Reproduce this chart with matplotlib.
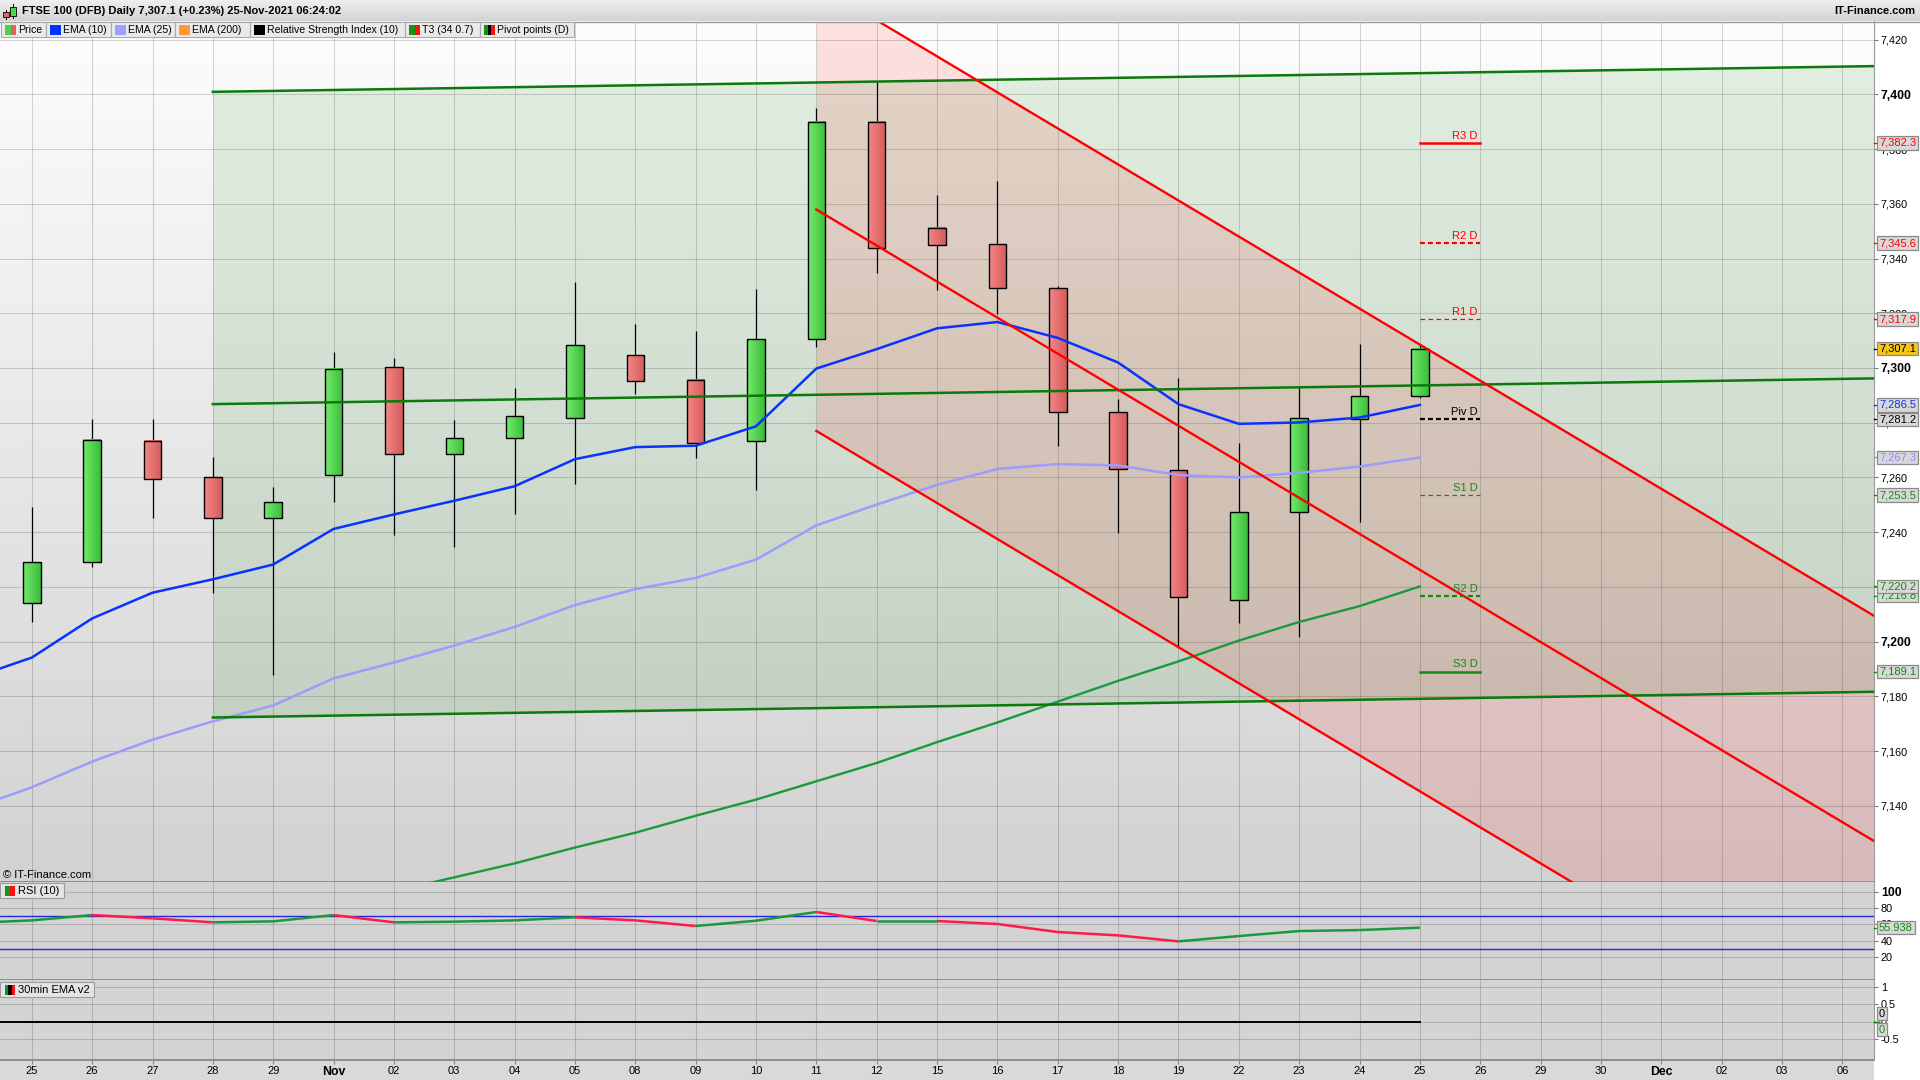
import numpy as np
import matplotlib
matplotlib.use("Agg")
import matplotlib.pyplot as plt
from matplotlib.colors import LinearSegmentedColormap
from matplotlib.patches import Rectangle

plt.rcParams['font.family'] = ['Liberation Sans', 'DejaVu Sans']

W, H = 1920, 1080

# ---- data --------------------------------------------------------------
day_labels = ["25", "26", "27", "28", "29", "Nov", "02", "03", "04", "05",
              "08", "09", "10", "11", "12", "15", "16", "17", "18", "19",
              "22", "23", "24", "25", "26", "29", "30", "Dec", "02", "03", "06"]

opens = [7214.3, 7229.1, 7273.4, 7260.0, 7245.2, 7260.9, 7300.2, 7268.5,
         7274.3, 7281.9, 7304.7, 7295.7, 7273.4, 7310.5, 7390.0, 7351.1,
         7345.3, 7329.3, 7283.8, 7262.6, 7215.2, 7247.3, 7281.5, 7289.6]
highs = [7249.2, 7281.4, 7281.4, 7267.6, 7256.4, 7306.0, 7303.8, 7281.0,
         7292.6, 7331.5, 7315.9, 7313.6, 7328.9, 7395.1, 7404.4, 7363.2,
         7368.3, 7330.0, 7288.6, 7296.2, 7272.5, 7293.1, 7308.7, 7308.8]
lows = [7207.2, 7227.3, 7245.2, 7217.9, 7187.9, 7251.0, 7238.9, 7234.5,
        7246.5, 7257.7, 7290.4, 7267.1, 7255.5, 7307.8, 7334.8, 7328.4,
        7319.9, 7271.6, 7239.8, 7197.8, 7207.0, 7201.6, 7243.8, 7288.9]
closes = [7229.1, 7273.8, 7259.5, 7245.2, 7251.0, 7299.8, 7268.5, 7274.3,
          7282.3, 7308.3, 7295.3, 7272.5, 7310.5, 7389.8, 7343.7, 7344.8,
          7329.3, 7284.1, 7263.0, 7216.2, 7247.3, 7281.6, 7289.9, 7307.1]

# indicator series start one session before the first visible candle
ema10 = [7186.6, 7194.2, 7208.5, 7217.9, 7222.8, 7228.2, 7241.2, 7246.5,
         7251.5, 7256.8, 7266.7, 7271.1, 7271.6, 7278.7, 7299.8, 7306.9,
         7314.5, 7316.8, 7311.0, 7302.0, 7286.8, 7279.6, 7280.1, 7281.9, 7286.5]
ema25 = [7139.0, 7146.8, 7156.2, 7164.2, 7170.9, 7176.7, 7186.6, 7192.4,
         7198.6, 7205.4, 7213.4, 7219.2, 7223.3, 7230.0, 7242.5, 7250.1,
         7257.3, 7263.1, 7264.9, 7264.4, 7260.9, 7260.0, 7261.7, 7264.0, 7267.3]
# T3 starts at session 6 (earlier values are below the visible range)
t3 = [7108.8, 7113.9, 7119.0, 7124.8, 7130.2, 7136.4, 7142.3, 7149.0, 7155.7,
      7163.3, 7170.5, 7178.1, 7185.7, 7192.8, 7200.4, 7207.2, 7213.0, 7220.2]
rsi = [61.6, 64.8, 71.3, 67.3, 62.4, 63.6, 71.3, 62.4, 63.2, 64.8, 68.5,
       64.8, 57.9, 64.4, 75.0, 64.0, 64.0, 60.4, 50.6, 46.5, 39.2, 45.7,
       51.8, 53.0, 55.938]
ema30min = [0, 0, 0, 0, 0, 0, 0, 0, 0, 0, 0, 0, 0, 0, 0, 0, 0, 0, 0, 0,
            0, 0, 0, 0, 0]

pivot_names = ["R3 D", "R2 D", "R1 D", "Piv D", "S1 D", "S2 D", "S3 D"]
pivot_values = [7382.3, 7345.6, 7317.9, 7281.2, 7253.5, 7216.8, 7189.1]

# trend channels: anchor sessions and prices
green_x = [3, 30.53]
green_top = [7400.9, 7410.3]
green_mid = [7286.8, 7296.2]
green_bot = [7172.3, 7181.7]
red_x = [13, 30.53]
red_top = [7440.2, 7209.4]
red_mid = [7357.9, 7127.1]
red_bot = [7277.0, 7046.2]

legend_names = ["Price", "EMA (10)", "EMA (25)", "EMA (200)",
                "Relative Strength Index (10)", "T3 (34 0.7)", "Pivot points (D)"]

# ---- styles -------------------------------------------------------------
C_GREEN_LINE = "#0b7a0b"
C_PIV_GREEN = "#118a11"
C_RED = "#ff0000"
C_EMA10 = "#0a32ff"
C_EMA25 = "#9c9cff"
C_T3 = "#1a9a3c"
C_RSI_UP = "#19993b"
C_RSI_DN = "#ff1a4a"
FS = 8.0

pivot_style = {
    "R3 D": dict(color=C_RED, lw=1.8, ls="-"),
    "R2 D": dict(color=C_RED, lw=1.6, ls=(0, (2.2, 1.4))),
    "R1 D": dict(color=C_RED, lw=0.9, ls=(0, (3.6, 2.8))),
    "Piv D": dict(color="black", lw=1.6, ls=(0, (2.2, 1.4))),
    "S1 D": dict(color=C_PIV_GREEN, lw=0.9, ls=(0, (3.6, 2.8))),
    "S2 D": dict(color=C_PIV_GREEN, lw=1.6, ls=(0, (2.2, 1.4))),
    "S3 D": dict(color=C_PIV_GREEN, lw=1.8, ls="-"),
}


def px_rect(x0, y0, x1, y1):
    return [x0 / W, 1 - y1 / H, (x1 - x0) / W, (y1 - y0) / H]


fig = plt.figure(figsize=(W / 100, H / 100), dpi=100, facecolor="white")
ax_p = fig.add_axes(px_rect(0, 21.5, 1874, 882))
ax_r = fig.add_axes(px_rect(0, 882, 1874, 980), sharex=ax_p)
ax_e = fig.add_axes(px_rect(0, 980, 1874, 1060), sharex=ax_p)

# bottom date strip
fig.add_artist(Rectangle((0, 0), 1874 / W, 20 / H, transform=fig.transFigure,
                         fc="#d9d9d9", ec="none", zorder=-1))

XMIN, XMAX = -0.527, 30.525
vgrad = np.linspace(0, 1, 256).reshape(-1, 1)
hgrad = np.linspace(0, 1, 32).reshape(1, -1)
bg_cmap = LinearSegmentedColormap.from_list("bg", ["#fdfdfd", "#d2d2d2"])
up_cmap = LinearSegmentedColormap.from_list("up", ["#74ea6a", "#3bbd3b"])
dn_cmap = LinearSegmentedColormap.from_list("dn", ["#f68686", "#d45c5c"])

for ax in (ax_p, ax_r, ax_e):
    ax.set_axisbelow(True)
    ax.grid(True, color="black", alpha=0.16, lw=0.75)
    for s in ("left", "top"):
        ax.spines[s].set_visible(False)
    ax.spines["right"].set_color("#9a9a9a")
    ax.spines["bottom"].set_color("#8e8e8e")
    ax.spines["bottom"].set_linewidth(1.4)
    ax.yaxis.tick_right()
    ax.tick_params(axis="y", length=3, color="#777777", labelsize=7.8, pad=2)
    ax.tick_params(axis="x", length=0)

# ---- price panel --------------------------------------------------------
ax_p.imshow(vgrad, cmap=bg_cmap, extent=[0, 1, 0, 1], transform=ax_p.transAxes,
            aspect="auto", zorder=0, interpolation="bilinear")

ax_p.fill_between(green_x, green_bot, green_top, color="#008000", alpha=0.10,
                  lw=0, zorder=1)
ax_p.fill_between(red_x, red_bot, red_top, color="#ff0000", alpha=0.11,
                  lw=0, zorder=1)

bw = 0.29
for i, (o, h, l, c) in enumerate(zip(opens, highs, lows, closes)):
    lo, hi = min(o, c), max(o, c)
    ax_p.vlines(i, l, h, color="black", lw=0.9, zorder=3)
    ax_p.imshow(hgrad, cmap=up_cmap if c >= o else dn_cmap,
                extent=(i - bw / 2, i + bw / 2, lo, hi), aspect="auto",
                interpolation="bilinear", zorder=4)
    ax_p.add_patch(Rectangle((i - bw / 2, lo), bw, hi - lo, fill=False,
                             ec="black", lw=1.0, zorder=4.1))

ind_x = np.arange(-1, 24)
ax_p.plot(ind_x, ema25, color=C_EMA25, lw=1.8, zorder=5)
ax_p.plot(ind_x, ema10, color=C_EMA10, lw=1.8, zorder=5)
ax_p.plot(np.arange(6, 24), t3, color=C_T3, lw=1.7, zorder=5)

for ys in (green_top, green_mid, green_bot):
    ax_p.plot(green_x, ys, color=C_GREEN_LINE, lw=1.8, zorder=6)
for ys in (red_top, red_mid, red_bot):
    ax_p.plot(red_x, ys, color=C_RED, lw=1.7, zorder=6)

last = len(closes) - 1
for name, val in zip(pivot_names, pivot_values):
    st = pivot_style[name]
    ax_p.plot([last, last + 1], [val, val], color=st["color"], lw=st["lw"],
              ls=st["ls"], zorder=6)
    ax_p.annotate(name, xy=(last + 0.96, val), xytext=(0, 1.5),
                  textcoords="offset points", ha="right", va="bottom",
                  fontsize=FS, color=st["color"], zorder=7)

ax_p.set_xlim(XMIN, XMAX)
ax_p.set_ylim(7112.2, 7426.6)
pt = list(range(7140, 7421, 20))
ax_p.set_yticks(pt)
ax_p.set_yticklabels([f"{v:,}" for v in pt])
for lab, v in zip(ax_p.get_yticklabels(), pt):
    if v % 100 == 0:
        lab.set_fontweight("bold")
        lab.set_fontsize(8.8)
ax_p.set_xticks(range(len(day_labels)))
ax_p.tick_params(axis="x", labelbottom=False)


def tag(ax, val, text, color, face="#d8d8d8", dy=0):
    tr = ax.get_yaxis_transform()
    ax.plot([1.0, 1.0028], [val, val], transform=tr, color=color, lw=1.0,
            clip_on=False, zorder=19)
    ax.annotate(text, xy=(1.0, val), xycoords=tr, xytext=(5, dy),
                textcoords="offset pixels", ha="left", va="center",
                fontsize=FS, color=color, annotation_clip=False, zorder=20,
                bbox=dict(boxstyle="square,pad=0.16", fc=face, ec="#8a8a8a",
                          lw=0.9))


tag_colors = {"R3 D": C_RED, "R2 D": C_RED, "R1 D": C_RED, "Piv D": "black",
              "S1 D": C_PIV_GREEN, "S2 D": C_PIV_GREEN, "S3 D": C_PIV_GREEN}
for name, val in zip(pivot_names, pivot_values):
    tag(ax_p, val, f"{val:,.1f}", tag_colors[name])
tag(ax_p, closes[-1], f"{closes[-1]:,.1f}", "black", face="#f5c518")
tag(ax_p, ema10[-1], f"{ema10[-1]:,.1f}", C_EMA10)
tag(ax_p, ema25[-1], f"{ema25[-1]:,.1f}", "#8c8cff")
tag(ax_p, t3[-1], f"{t3[-1]:,.1f}", C_PIV_GREEN)

# ---- RSI panel ----------------------------------------------------------
ax_r.set_facecolor("#d3d3d3")
ax_r.axhline(70, color="#2525e0", lw=1.0, zorder=2)
ax_r.axhline(30, color="#2525e0", lw=1.0, zorder=2)
for i in range(len(rsi) - 1):
    col = C_RSI_UP if rsi[i + 1] >= rsi[i] else C_RSI_DN
    ax_r.plot(ind_x[i:i + 2], rsi[i:i + 2], color=col, lw=1.8, zorder=3,
              solid_capstyle="butt")
ax_r.set_ylim(-7.9, 111.6)
rt = [20, 40, 60, 80, 100]
ax_r.set_yticks(rt)
ax_r.set_yticklabels([str(v) for v in rt])
ax_r.get_yticklabels()[-1].set_fontweight("bold")
ax_r.get_yticklabels()[-1].set_fontsize(8.8)
ax_r.tick_params(axis="x", labelbottom=False)
tag(ax_r, rsi[-1], f"{rsi[-1]:.3f}", C_PIV_GREEN)

# ---- 30min EMA panel ----------------------------------------------------
ax_e.set_facecolor("#d4d4d4")
ax_e.plot(ind_x, ema30min, color="black", lw=1.4, zorder=3)
ax_e.set_ylim(-1.116, 1.203)
et = [1, 0.5, 0, -0.5]
ax_e.set_yticks(et)
ax_e.set_yticklabels(["1", "0.5", "0", "-0.5"])
tag(ax_e, 0, "0", "black", dy=8)
tag(ax_e, 0, "0", C_PIV_GREEN, dy=-8)
ax_e.set_xticks(range(len(day_labels)))
ax_e.set_xticklabels(day_labels)
ax_e.tick_params(axis="x", length=3, color="#888888", labelsize=FS, pad=1.5)
for lab in ax_e.get_xticklabels():
    if lab.get_text() in ("Nov", "Dec"):
        lab.set_fontweight("bold")
        lab.set_fontsize(8.8)
ax_e.set_xlim(XMIN, XMAX)

# ---- overlay: title bar, legend, panel captions -------------------------
ov = fig.add_axes([0, 0, 1, 1], zorder=10)
ov.patch.set_alpha(0)
ov.axis("off")
title_cmap = LinearSegmentedColormap.from_list("tb", ["#f0f0f0", "#d3d3d3"])
ov.imshow(vgrad, cmap=title_cmap, extent=(0, W, 21.5, 0), aspect="auto",
          interpolation="bilinear", zorder=1)
ov.plot([0, W], [21.5, 21.5], color="#9a9a9a", lw=1.0, zorder=2)
# small candle icon
ov.plot([6, 6], [10, 19], color="black", lw=0.7, zorder=3)
ov.add_patch(Rectangle((3.3, 11.7), 5.4, 5.6, fc="#e06a6a", ec="black", lw=0.6, zorder=4))
ov.plot([13.3, 13.3], [4, 17.5], color="black", lw=0.7, zorder=3)
ov.add_patch(Rectangle((10.2, 7.3), 6, 8.7, fc="#4fd84f", ec="black", lw=0.6, zorder=4))
ov.text(22, 11.5, "FTSE 100 (DFB) Daily 7,307.1 (+0.23%) 25-Nov-2021 06:24:02",
        fontsize=8.0, fontweight="bold", va="center", ha="left", zorder=5)
ov.text(1915, 11.5, "IT-Finance.com", fontsize=8.0, fontweight="bold",
        va="center", ha="right", zorder=5)

legend_edges = [1, 46, 111, 175, 250, 405, 480, 574]
legend_icons = [["#4cd04c", "#e06262"], ["#0033ff"], ["#9f9fff"], ["#ff9933"],
                ["#000000"], ["#139413", "#ff1010"], ["#139413", "#000000", "#ff1010"]]
for k, name in enumerate(legend_names):
    x0, x1 = legend_edges[k], legend_edges[k + 1]
    ov.add_patch(Rectangle((x0, 22), x1 - x0, 15, fc="#eaeaea", ec="#a9a9a9",
                           lw=0.8, zorder=2))
    cols = legend_icons[k]
    wseg = 11 / len(cols)
    for j, c in enumerate(cols):
        ov.add_patch(Rectangle((x0 + 4 + j * wseg, 24.5), wseg, 10.5, fc=c,
                               ec="none", zorder=3))
    ov.text(x0 + 17, 29.8, name, fontsize=7.6, va="center", ha="left", zorder=4)


def caption(y0, w, text, cols):
    ov.add_patch(Rectangle((0, y0), w, 15, fc="#e4e4e4", ec="#9c9c9c",
                           lw=0.8, zorder=2))
    wseg = 10 / len(cols)
    for j, c in enumerate(cols):
        ov.add_patch(Rectangle((5 + j * wseg, y0 + 2.5), wseg, 10, fc=c,
                               ec="none", zorder=3))
    ov.text(18, y0 + 7.8, text, fontsize=FS, va="center", ha="left", zorder=4)


caption(883, 64, "RSI (10)", ["#139413", "#ff1010"])
caption(982, 94, "30min EMA v2", ["#139413", "#000000", "#ff1010"])
ov.text(3, 875, "\u00a9 IT-Finance.com", fontsize=FS, va="center", ha="left",
        zorder=4)
ov.set_xlim(0, W)
ov.set_ylim(H, 0)

fig.savefig("out.png", dpi=100, facecolor="white")
